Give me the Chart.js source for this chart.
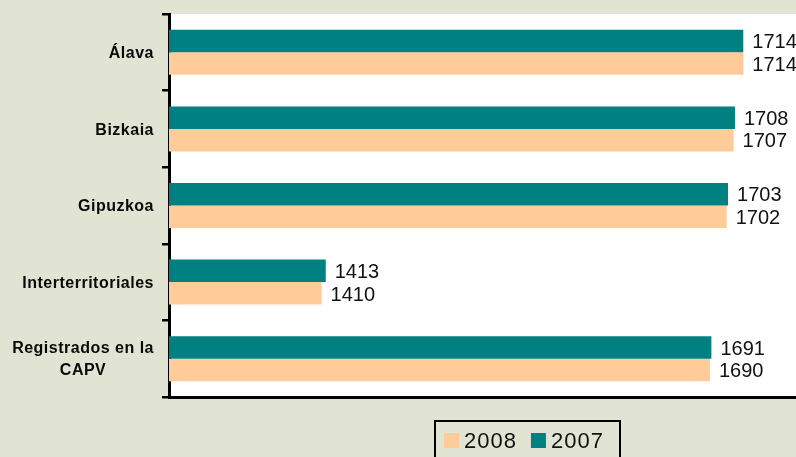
<!DOCTYPE html>
<html>
<head>
<meta charset="utf-8">
<script src="https://cdn.jsdelivr.net/npm/chart.js@4/dist/chart.umd.min.js"></script>
<style>
    body { margin: 0; background: #e1e3d3; }
    #wrap { width: 796px; height: 457px; position: relative; }
</style>
</head>
<body>
<div id="wrap"><canvas id="chart"></canvas></div>
<script>
// categories (top to bottom)
const categories = [
    ["Álava"],
    ["Bizkaia"],
    ["Gipuzkoa"],
    ["Interterritoriales"],
    ["Registrados en la", "CAPV"]
];

const values2007 = [1714, 1708, 1703, 1413, 1691];
const values2008 = [1714, 1707, 1702, 1410, 1690];

const TEAL = "#008080";
const PEACH = "#ffcc99";

/**
 * white plot area
 */
const plotBackground = {
    id: "plotBackground",
    beforeDraw(chart) {
        const { ctx, chartArea } = chart;
        ctx.save();
        ctx.fillStyle = "#ffffff";
        ctx.fillRect(chartArea.left, chartArea.top, chart.width - chartArea.left, chartArea.bottom - chartArea.top);
        ctx.restore();
    }
};

/**
 * category labels, centered lines, right edge next to axis
 */
const categoryLabels = {
    id: "categoryLabels",
    afterDraw(chart) {
        const { ctx } = chart;
        const yScale = chart.scales.y;
        const size = 16;
        const lineH = 22;
        const rightEdge = 154;

        ctx.save();
        ctx.font = "bold " + size + "px 'Liberation Sans', Arial, sans-serif";
        ctx.letterSpacing = "0.5px";
        ctx.fillStyle = "#0a0a0a";
        ctx.textAlign = "center";
        ctx.textBaseline = "alphabetic";

        categories.forEach((lines, i) => {
            const center = yScale.getPixelForValue(i);
            const maxW = Math.max(...lines.map(l => ctx.measureText(l).width));
            const cx = rightEdge - maxW / 2;
            const first = center + size * 0.716 / 2 - (lines.length - 1) * lineH / 2;
            lines.forEach((l, k) => ctx.fillText(l, cx, first + k * lineH));
        });
        ctx.restore();
    }
};

/**
 * value labels at bar ends
 */
const valueLabels = {
    id: "valueLabels",
    afterDatasetsDraw(chart) {
        const { ctx } = chart;
        const size = 20;
        ctx.save();
        ctx.font = size + "px 'Liberation Sans', Arial, sans-serif";
        ctx.fillStyle = "#111111";
        ctx.textAlign = "left";
        ctx.textBaseline = "alphabetic";

        chart.data.datasets.forEach((ds, di) => {
            chart.getDatasetMeta(di).data.forEach((bar, i) => {
                ctx.fillText(String(ds.data[i]), bar.x + 9, bar.y + size * 0.716 / 2);
            });
        });
        ctx.restore();
    }
};

/**
 * boxed legend, 2008 first
 */
const boxLegend = {
    id: "boxLegend",
    afterDraw(chart) {
        const { ctx } = chart;
        const size = 22;
        const items = chart.data.datasets.slice().reverse();

        ctx.save();
        ctx.strokeStyle = "#000000";
        ctx.lineWidth = 2;
        ctx.strokeRect(435, 421, 185, 50);

        ctx.font = size + "px 'Liberation Sans', Arial, sans-serif";
        ctx.letterSpacing = "1px";
        ctx.textAlign = "left";
        ctx.textBaseline = "alphabetic";

        let x = 444;
        items.forEach(ds => {
            ctx.fillStyle = ds.backgroundColor;
            ctx.fillRect(x, 433, 15, 15);
            ctx.fillStyle = "#111111";
            ctx.fillText(ds.label, x + 20, 448);
            x += 20 + ctx.measureText(ds.label).width + 14;
        });
        ctx.restore();
    }
};

new Chart(document.getElementById("chart"), {
    type: "bar",
    data: {
        labels: categories.map(c => c.join(" ")),
        datasets: [
            {
                label: "2007",
                data: values2007,
                backgroundColor: TEAL,
                borderWidth: 0
            },
            {
                label: "2008",
                data: values2008,
                backgroundColor: PEACH,
                borderWidth: 0
            }
        ]
    },
    options: {
        indexAxis: "y",
        responsive: true,
        maintainAspectRatio: false,
        animation: false,
        categoryPercentage: 0.587,
        barPercentage: 1.0,
        layout: { padding: { top: 14, left: 0, right: 0, bottom: 0 } },
        plugins: {
            legend: { display: false },
            tooltip: { enabled: false }
        },
        scales: {
            x: {
                min: 1300,
                max: 1752,
                ticks: { display: false },
                grid: { display: false, drawTicks: false },
                border: { display: true, color: "#000000", width: 3 },
                afterFit(scale) { scale.height = 60; }
            },
            y: {
                ticks: { display: false },
                grid: {
                    offset: true,
                    drawOnChartArea: false,
                    drawTicks: true,
                    tickLength: 7,
                    color: "#000000",
                    lineWidth: 2.5
                },
                border: { display: true, color: "#000000", width: 3 },
                afterFit(scale) { scale.width = 169; }
            }
        }
    },
    plugins: [plotBackground, categoryLabels, valueLabels, boxLegend]
});
</script>
</body>
</html>
